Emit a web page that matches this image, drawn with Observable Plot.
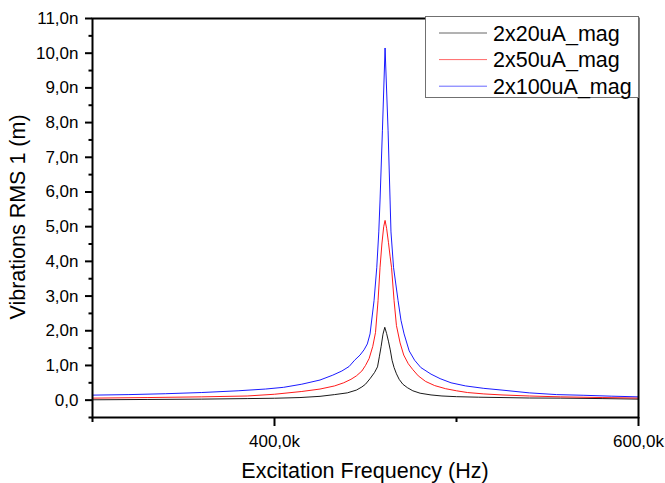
<!DOCTYPE html>
<html><head><meta charset="utf-8">
<script src="https://cdn.jsdelivr.net/npm/d3@7"></script>
<script src="https://cdn.jsdelivr.net/npm/@observablehq/plot@0.6"></script>
<style>body{margin:0;background:#fff} #chart{width:665px;height:483px}</style>
</head><body><div id="chart"></div>
<script>
const seriesNames = ["2x20uA_mag", "2x50uA_mag", "2x100uA_mag"];
const seriesColors = ["#000000", "#ff0000", "#0000ff"];

// frequency in kHz, amplitude in nm
const freq20 = [300,330,360,385,400,414,425,433,440,445,448,450,452.5,455,456.6,457.6,458.6,459.6,460.6,461.6,462.6,463.6,464.6,465.7,467,468.5,470.5,473,476,480,486,492,500,512,525,540,557,580,600];
const amp20  = [0.01,0.02,0.03,0.045,0.055,0.075,0.11,0.16,0.21,0.29,0.38,0.46,0.62,0.8,0.96,1.25,1.55,1.9,2.1,1.92,1.7,1.45,1.15,0.94,0.76,0.6,0.46,0.36,0.27,0.2,0.15,0.12,0.1,0.085,0.075,0.062,0.058,0.045,0.03];

const freq50 = [300,330,360,385,400,415,425,433,438,442,445,448,450,452,454,455.5,456.9,458,459,460,460.75,461.6,462.6,463.5,464.3,465.7,467,469,471,473.5,476,479,483,488,494,500,506,515,525,540,557,580,600];
const amp50  = [0.058,0.075,0.095,0.12,0.17,0.25,0.32,0.41,0.5,0.6,0.7,0.84,1.0,1.2,1.55,1.95,2.87,3.83,4.5,5.0,5.18,4.95,4.55,4.15,3.83,2.87,2.15,1.65,1.3,1.05,0.88,0.7,0.54,0.42,0.33,0.27,0.22,0.18,0.15,0.12,0.095,0.075,0.06];

const freq100 = [300,320,340,360,380,395,405,415,425,432,437,441,444,447,449.2,451,452.5,454.7,456.2,457.3,458,459.3,460.75,462.4,463.5,464,465.4,467.9,469.5,471.2,474,477,480.4,486,491,497,505,515,525,540,555,570,585,600];
const amp100  = [0.145,0.16,0.185,0.22,0.27,0.32,0.37,0.46,0.58,0.72,0.84,0.97,1.15,1.3,1.45,1.62,1.91,2.87,3.83,4.85,5.77,7.78,10.15,7.78,5.77,4.85,3.83,2.87,2.3,1.91,1.42,1.15,0.94,0.75,0.62,0.5,0.41,0.34,0.29,0.21,0.16,0.14,0.115,0.095];

const yTicks = [0,1,2,3,4,5,6,7,8,9,10,11];
const yMinorTicks = [-0.5,0.5,1.5,2.5,3.5,4.5,5.5,6.5,7.5,8.5,9.5,10.5];
const xTicks = [400, 600];
const xMinorTicks = [300, 500];
const xTitle = "Excitation Frequency (Hz)";
const yTitle = "Vibrations RMS 1 (m)";

const rows = [];
[[freq20, amp20], [freq50, amp50], [freq100, amp100]].forEach(([f, a], i) =>
  f.forEach((v, j) => rows.push({series: seriesNames[i], f: v, a: a[j]})));

const fmtY = d => d === 0 ? "0,0" : d.toFixed(1).replace(".", ",") + "n";
const fmtX = d => d.toFixed(1).replace(".", ",") + "k";

const plot = Plot.plot({
  width: 665, height: 483,
  marginLeft: 92, marginRight: 27, marginTop: 18, marginBottom: 66,
  style: {fontFamily: "'Liberation Sans', Arial, sans-serif", fontSize: "17px", color: "#000", background: "#fff", overflow: "visible"},
  x: {domain: [300, 600]},
  y: {domain: [-0.5, 11]},
  color: {domain: seriesNames, range: seriesColors},
  marks: [
    Plot.line(rows, {x: "f", y: "a", z: "series", stroke: "series", strokeWidth: 0.9}),
    Plot.frame({stroke: "#000", strokeWidth: 2}),
    Plot.axisY({ticks: yTicks, tickSize: 7, tickPadding: 7, tickFormat: fmtY, strokeWidth: 2, label: null}),
    Plot.axisY({ticks: yMinorTicks, tickSize: 3.5, tickFormat: () => "", strokeWidth: 2, label: null}),
    Plot.axisX({ticks: xTicks, tickSize: 9, tickPadding: 8, tickFormat: fmtX, strokeWidth: 2, label: null}),
    Plot.axisX({ticks: xMinorTicks, tickSize: 5, tickFormat: () => "", strokeWidth: 2, label: null})
  ]
});
document.getElementById("chart").appendChild(plot);

const svg = d3.select(plot);
svg.append("text").attr("x", 365).attr("y", 478).attr("text-anchor", "middle")
  .attr("font-size", 21.5).attr("fill", "#000").text(xTitle);
svg.append("text").attr("transform", "translate(25,217) rotate(-90)").attr("text-anchor", "middle")
  .attr("font-size", 21.5).attr("fill", "#000").text(yTitle);

const lg = svg.append("g");
lg.append("rect").attr("x", 425.5).attr("y", 16.5).attr("width", 213).attr("height", 81)
  .attr("fill", "#fff").attr("stroke", "#707070").attr("stroke-width", 1);
seriesNames.forEach((n, i) => {
  const cy = 33 + i * 26.6;
  lg.append("line").attr("x1", 439).attr("x2", 487).attr("y1", cy).attr("y2", cy)
    .attr("stroke", seriesColors[i]).attr("stroke-width", 1).attr("stroke-opacity", 0.6);
  lg.append("text").attr("x", 493).attr("y", cy + 7.7).attr("text-anchor", "start")
    .attr("font-size", 21.5).attr("fill", "#000").text(n);
});
</script>
</body></html>
